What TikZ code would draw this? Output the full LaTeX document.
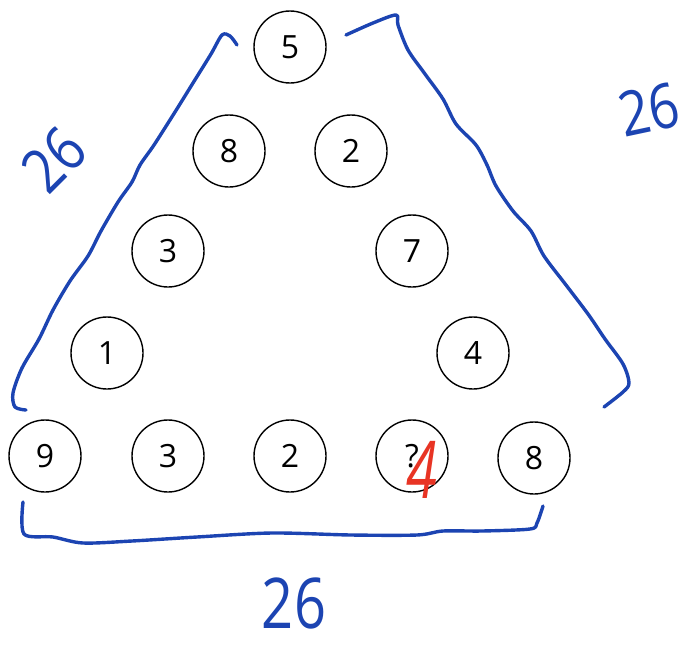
\documentclass[tikz,border=0pt]{standalone}
\usepackage{fontspec}
\setmainfont{Open Sans}
\definecolor{inkblue}{RGB}{28,68,178}
\definecolor{inkred}{RGB}{232,52,36}
\begin{document}
\begin{tikzpicture}[x=1pt,y=-1pt,
  ball/.style={circle,draw=black,line width=1.4pt,minimum size=72pt,inner sep=0pt,font=\fontsize{32}{36}\selectfont},
  ink/.style={draw=inkblue,line width=3.4pt,line cap=round,line join=round},
  hand/.style={text=inkblue,inner sep=0pt}]
\useasboundingbox (0,0) rectangle (687,645);
\node[ball] (t) at (290,47) {5};
\node[ball] (l1) at (229,151) {8};
\node[ball] (r1) at (351,151) {2};
\node[ball] (l2) at (168,251) {3};
\node[ball] (r2) at (412,251) {7};
\node[ball] (l3) at (107,353) {1};
\node[ball] (r3) at (473,353) {4};
\node[ball] (b1) at (45,456) {9};
\node[ball] (b2) at (168,456) {3};
\node[ball] (b3) at (290,456) {2};
\node[ball] (b4) at (412,456) {?};
\node[ball] (b5) at (534,458) {8};
% red answer
\node[text=inkred,inner sep=0pt,font=\fontsize{80}{80}\selectfont\itshape,xscale=0.7] (ans) at (422,470) {4};
% brackets
\draw[ink] plot[smooth,tension=0.5] coordinates {(237,45) (230,36) (222,35) (211,54) (193,83) (175,112) (154,145) (140,165) (132,182) (118,202) (101,231) (88,256) (70,281) (53,310) (39,339) (22,368) (13,393) (15,407) (26,410)};
\draw[ink] plot[smooth,tension=0.5] coordinates {(346,35) (373,23) (396,15) (398,25) (408,50) (425,74) (443,99) (456,124) (476,145) (487,165) (496,186) (513,211) (531,231) (544,256) (566,285) (588,314) (605,339) (623,364) (629,383) (623,392) (604,407)};
\draw[ink] plot[smooth,tension=0.5] coordinates {(23,502) (24,534) (53,537) (83,543) (132,541) (197,537) (272,533) (351,535) (417,535) (443,531) (482,531) (530,529) (537,523) (543,506)};
% side sums
\node[hand,font=\fontsize{62}{62}\selectfont,rotate=45,xscale=0.85] (sl) at (54,160) {26};
\node[hand,font=\fontsize{62}{62}\selectfont,rotate=12,xscale=0.85] (sr) at (649,110) {26};
\node[hand,font=\fontsize{70}{70}\selectfont,xscale=0.8] (sb) at (294,603) {26};
\end{tikzpicture}
\end{document}
